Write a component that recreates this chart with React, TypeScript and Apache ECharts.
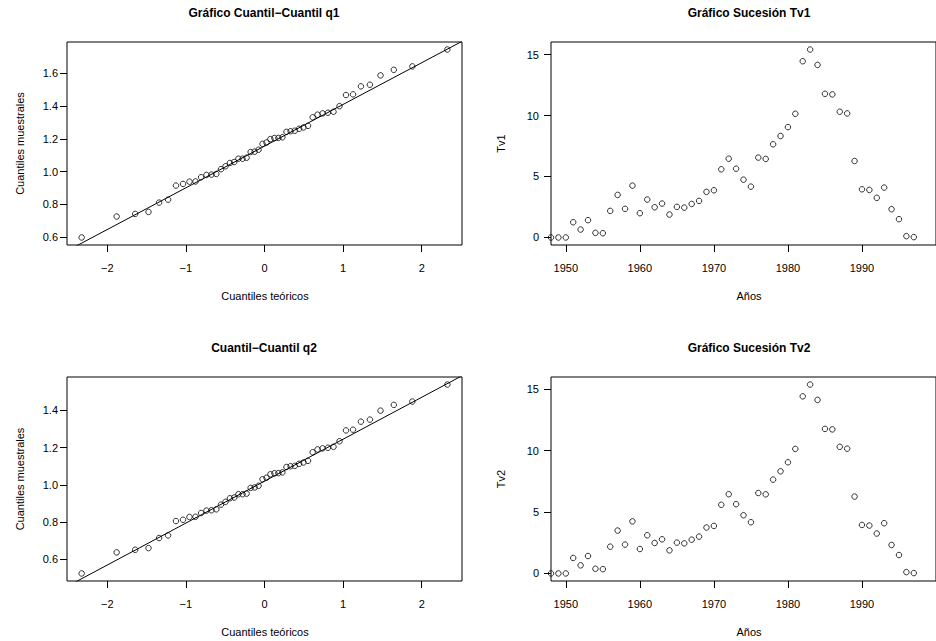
import React, { useEffect, useRef } from "react";
import * as echarts from "echarts";

// Theoretical normal quantiles (x positions of the Q-Q points, n = 50)
const theoQuantiles = [
  -2.3263, -1.8808, -1.6449, -1.4758, -1.3408, -1.2265, -1.1264, -1.0364, -0.9542, -0.8779,
  -0.8064, -0.7388, -0.6745, -0.6128, -0.5534, -0.4959, -0.4399, -0.3853, -0.3319, -0.2793,
  -0.2275, -0.1764, -0.1257, -0.0753, -0.0251, 0.0251, 0.0753, 0.1257, 0.1764, 0.2275,
  0.2793, 0.3319, 0.3853, 0.4399, 0.4959, 0.5534, 0.6128, 0.6745, 0.7388, 0.8064,
  0.8779, 0.9542, 1.0364, 1.1264, 1.2265, 1.3408, 1.4758, 1.6449, 1.8808, 2.3263,
];

// Sample quantiles q1 (sorted)
const q1Sample = [
  0.598, 0.726, 0.742, 0.754, 0.811, 0.829, 0.915, 0.925, 0.939, 0.94,
  0.966, 0.98, 0.982, 0.986, 1.015, 1.033, 1.053, 1.059, 1.079, 1.079,
  1.085, 1.12, 1.122, 1.134, 1.17, 1.178, 1.199, 1.205, 1.206, 1.21,
  1.243, 1.247, 1.25, 1.262, 1.27, 1.28, 1.332, 1.348, 1.356, 1.36,
  1.366, 1.4, 1.468, 1.472, 1.521, 1.531, 1.588, 1.622, 1.643, 1.746,
];

// Sample quantiles q2 (sorted)
const q2Sample = [
  0.525, 0.638, 0.652, 0.661, 0.715, 0.729, 0.806, 0.813, 0.828, 0.829,
  0.849, 0.862, 0.864, 0.869, 0.894, 0.909, 0.928, 0.932, 0.95, 0.95,
  0.953, 0.984, 0.986, 0.995, 1.03, 1.038, 1.057, 1.062, 1.063, 1.067,
  1.096, 1.1, 1.102, 1.113, 1.12, 1.129, 1.175, 1.19, 1.196, 1.199,
  1.204, 1.234, 1.292, 1.296, 1.339, 1.35, 1.398, 1.429, 1.447, 1.538,
];

// Reference lines (qqline): intercept and slope
const q1Line = { intercept: 1.156, slope: 0.2547 };
const q2Line = { intercept: 1.02, slope: 0.2249 };

const years = [
  1948, 1949, 1950, 1951, 1952, 1953, 1954, 1955, 1956, 1957,
  1958, 1959, 1960, 1961, 1962, 1963, 1964, 1965, 1966, 1967,
  1968, 1969, 1970, 1971, 1972, 1973, 1974, 1975, 1976, 1977,
  1978, 1979, 1980, 1981, 1982, 1983, 1984, 1985, 1986, 1987,
  1988, 1989, 1990, 1991, 1992, 1993, 1994, 1995, 1996, 1997,
];

const tv1 = [
  0, 0, 0, 1.25, 0.65, 1.42, 0.38, 0.35, 2.18, 3.49,
  2.35, 4.25, 1.99, 3.11, 2.48, 2.78, 1.88, 2.51, 2.45, 2.75,
  3.0, 3.74, 3.87, 5.59, 6.46, 5.64, 4.74, 4.17, 6.55, 6.44,
  7.64, 8.32, 9.05, 10.14, 14.45, 15.41, 14.15, 11.78, 11.73, 10.31,
  10.17, 6.27, 3.95, 3.9, 3.25, 4.09, 2.32, 1.5, 0.11, 0.03,
];

const tv2 = [
  0, 0, 0, 1.26, 0.66, 1.42, 0.38, 0.35, 2.18, 3.49,
  2.35, 4.24, 1.99, 3.11, 2.48, 2.78, 1.88, 2.51, 2.45, 2.75,
  3.0, 3.74, 3.87, 5.59, 6.45, 5.64, 4.74, 4.17, 6.55, 6.44,
  7.64, 8.32, 9.05, 10.14, 14.42, 15.38, 14.13, 11.77, 11.73, 10.31,
  10.16, 6.26, 3.95, 3.9, 3.25, 4.09, 2.32, 1.5, 0.11, 0.03,
];

const qqXTicks = [-2, -1, 0, 1, 2];
const q1YTicks = [0.6, 0.8, 1.0, 1.2, 1.4, 1.6];
const q2YTicks = [0.6, 0.8, 1.0, 1.2, 1.4];
const yearTicks = [1950, 1960, 1970, 1980, 1990];
const tvYTicks = [0, 5, 10, 15];

const FONT = '"Liberation Sans", Arial, Helvetica, sans-serif';

function ext(values: number[]) {
  const lo = Math.min(...values);
  const hi = Math.max(...values);
  const d = (hi - lo) * 0.04;
  return [lo - d, hi + d];
}

const minus = (v: number, digits?: number) => {
  const s = digits !== undefined ? Math.abs(v).toFixed(digits) : String(Math.abs(v));
  return v < 0 ? "\u2212" + s : s;
};

function xAxisCfg(gridIndex: number, min: number, max: number, ticks: number[], fmt: (v: number) => string) {
  return {
    type: "value",
    gridIndex,
    min,
    max,
    axisLine: { show: false, onZero: false },
    axisTick: { show: true, inside: false, length: 7, lineStyle: { color: "#000", width: 1 }, customValues: ticks },
    axisLabel: { show: true, customValues: ticks, formatter: fmt, color: "#000", fontSize: 11, fontFamily: FONT, margin: 17 },
    splitLine: { show: false },
  };
}

function yAxisCfg(gridIndex: number, min: number, max: number, ticks: number[], fmt: (v: number) => string, margin: number) {
  return {
    type: "value",
    gridIndex,
    min,
    max,
    axisLine: { show: false, onZero: false },
    axisTick: { show: true, inside: false, length: 7, lineStyle: { color: "#000", width: 1 }, customValues: ticks },
    axisLabel: { show: true, customValues: ticks, formatter: fmt, color: "#000", fontSize: 11, fontFamily: FONT, margin },
    splitLine: { show: false },
  };
}

const pointStyle = { color: "rgba(0,0,0,0)", borderColor: "#000", borderWidth: 1 };
const SYM = 5.5;

export default function App() {
  const ref = useRef<HTMLDivElement>(null);
  useEffect(() => {
    if (!ref.current) return;
    const chart = echarts.init(ref.current, null, { renderer: "svg" });

    const qxRange = ext(theoQuantiles);
    const q1Range = ext(q1Sample);
    const q2Range = ext(q2Sample);
    const tvRange = ext(tv1);
    const tv2Range = ext(tv2);

    const lineData = (l: { intercept: number; slope: number }) => [
      [qxRange[0], l.intercept + l.slope * qxRange[0]],
      [qxRange[1], l.intercept + l.slope * qxRange[1]],
    ];

    const text = (x: number, y: number, t: string, bold: boolean, size: number, rot = 0) => ({
      type: "text",
      x,
      y,
      rotation: rot,
      silent: true,
      style: {
        text: t,
        fill: "#000",
        fontFamily: FONT,
        fontSize: size,
        fontWeight: bold ? "bold" : "normal",
        align: "center",
        verticalAlign: "middle",
      },
    });

    const option: any = {
      animation: false,
      backgroundColor: "#fff",
      grid: [
        { left: 67, top: 42, width: 395, height: 203, show: true, borderColor: "#000", borderWidth: 1, backgroundColor: "transparent" },
        { left: 551, top: 42, width: 396, height: 203, show: true, borderColor: "#000", borderWidth: 1, backgroundColor: "transparent" },
        { left: 67, top: 377, width: 395, height: 204, show: true, borderColor: "#000", borderWidth: 1, backgroundColor: "transparent" },
        { left: 551, top: 377, width: 396, height: 204, show: true, borderColor: "#000", borderWidth: 1, backgroundColor: "transparent" },
      ],
      xAxis: [
        xAxisCfg(0, qxRange[0], qxRange[1], qqXTicks, (v) => minus(v)),
        xAxisCfg(1, 1948, 2000, yearTicks, (v) => String(v)),
        xAxisCfg(2, qxRange[0], qxRange[1], qqXTicks, (v) => minus(v)),
        xAxisCfg(3, 1948, 2000, yearTicks, (v) => String(v)),
      ],
      yAxis: [
        yAxisCfg(0, q1Range[0], q1Range[1], q1YTicks, (v) => minus(v, 1), 9),
        yAxisCfg(1, tvRange[0], tvRange[1], tvYTicks, (v) => String(v), 12),
        yAxisCfg(2, q2Range[0], q2Range[1], q2YTicks, (v) => minus(v, 1), 9),
        yAxisCfg(3, tv2Range[0], tv2Range[1], tvYTicks, (v) => String(v), 12),
      ],
      series: [
        {
          type: "scatter", xAxisIndex: 0, yAxisIndex: 0, symbol: "circle", symbolSize: SYM,
          itemStyle: pointStyle, data: theoQuantiles.map((x, i) => [x, q1Sample[i]]), silent: true,
        },
        {
          type: "line", xAxisIndex: 0, yAxisIndex: 0, showSymbol: false, clip: true,
          lineStyle: { color: "#000", width: 1 }, data: lineData(q1Line), silent: true,
        },
        {
          type: "scatter", xAxisIndex: 1, yAxisIndex: 1, symbol: "circle", symbolSize: SYM,
          itemStyle: pointStyle, data: years.map((y, i) => [y, tv1[i]]), silent: true,
        },
        {
          type: "scatter", xAxisIndex: 2, yAxisIndex: 2, symbol: "circle", symbolSize: SYM,
          itemStyle: pointStyle, data: theoQuantiles.map((x, i) => [x, q2Sample[i]]), silent: true,
        },
        {
          type: "line", xAxisIndex: 2, yAxisIndex: 2, showSymbol: false, clip: true,
          lineStyle: { color: "#000", width: 1 }, data: lineData(q2Line), silent: true,
        },
        {
          type: "scatter", xAxisIndex: 3, yAxisIndex: 3, symbol: "circle", symbolSize: SYM,
          itemStyle: pointStyle, data: years.map((y, i) => [y, tv2[i]]), silent: true,
        },
      ],
      graphic: [
        text(264, 13, "Gráfico Cuantil\u2212Cuantil q1", true, 12),
        text(749, 13, "Gráfico Sucesión Tv1", true, 12),
        text(264, 348, "Cuantil\u2212Cuantil q2", true, 12),
        text(749, 348, "Gráfico Sucesión Tv2", true, 12),
        text(265, 296, "Cuantiles teóricos", false, 11),
        text(749, 296, "Años", false, 11),
        text(265, 632, "Cuantiles teóricos", false, 11),
        text(749, 632, "Años", false, 11),
        text(20, 143.5, "Cuantiles muestrales", false, 11, Math.PI / 2),
        text(501, 143.5, "Tv1", false, 11, Math.PI / 2),
        text(20, 479, "Cuantiles muestrales", false, 11, Math.PI / 2),
        text(501, 479, "Tv2", false, 11, Math.PI / 2),
      ],
    };
    chart.setOption(option);
    return () => chart.dispose();
  }, []);

  return (
    <div
      ref={ref}
      style={{ position: "absolute", left: 0, top: 0, width: 936, height: 641, overflow: "hidden", background: "#fff" }}
    />
  );
}
